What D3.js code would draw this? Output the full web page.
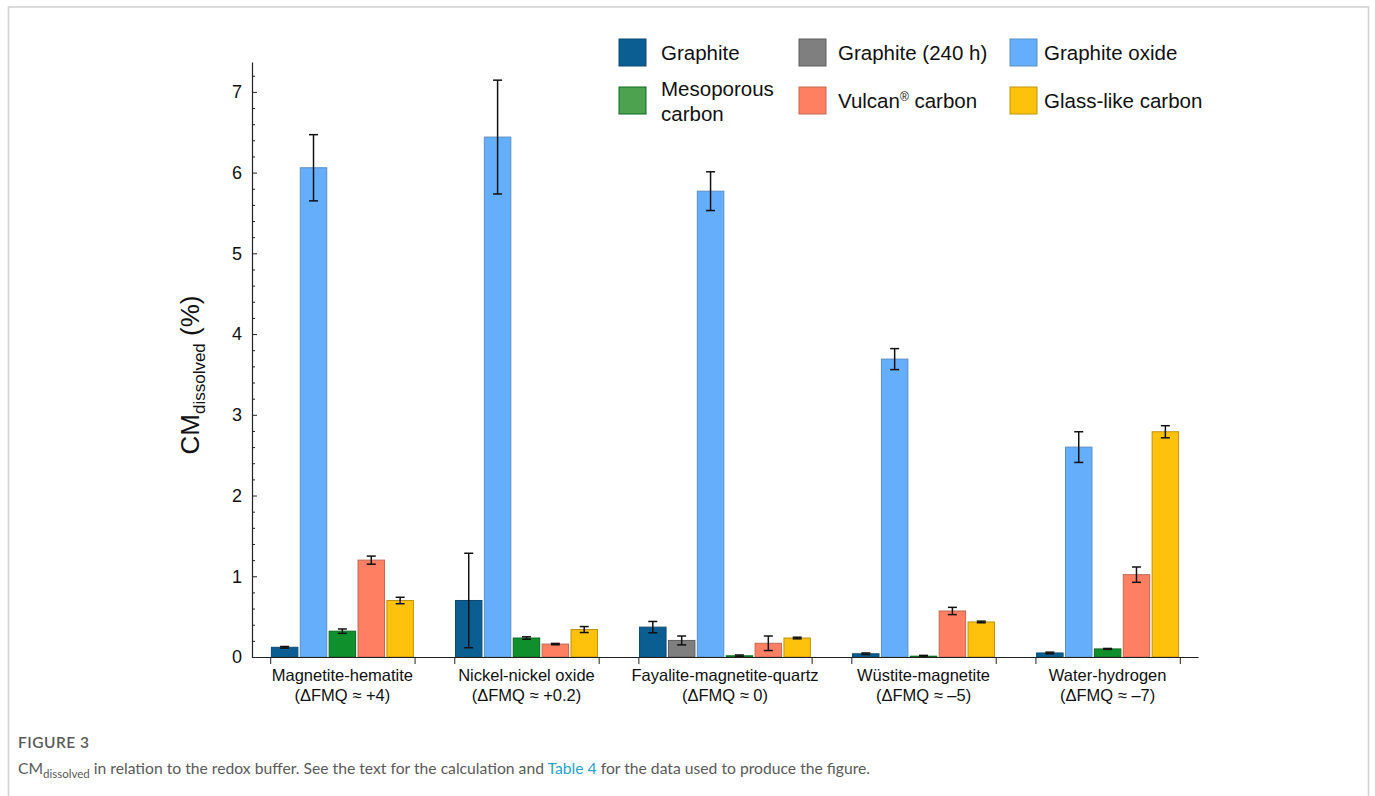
<!DOCTYPE html>
<html>
<head>
<meta charset="utf-8">
<script src="https://cdn.jsdelivr.net/npm/d3@7/dist/d3.min.js"></script>
<style>
  html, body { margin: 0; padding: 0; background: #fff; }
  svg { display: block; }
</style>
</head>
<body>
<svg id="fig" width="1375" height="796"></svg>
<script>
// Redox buffers (x groups) and their second label line
const buffers = ["Magnetite-hematite", "Nickel-nickel oxide", "Fayalite-magnetite-quartz", "Wüstite-magnetite", "Water-hydrogen"];
const bufferDelta = ["(ΔFMQ ≈ +4)", "(ΔFMQ ≈ +0.2)", "(ΔFMQ ≈ 0)", "(ΔFMQ ≈ –5)", "(ΔFMQ ≈ –7)"];

// Carbon materials (series)
const materials = ["Graphite", "Graphite (240 h)", "Graphite oxide", "Mesoporous carbon", "Vulcan® carbon", "Glass-like carbon"];

// CM_dissolved (%) per buffer; null = not measured
const graphite        = [0.12, 0.70, 0.37, 0.04, 0.05];
const graphiteErr     = [0.01, 0.585, 0.07, 0.01, 0.01];
const graphite240     = [null, null, 0.205, null, null];
const graphite240Err  = [null, null, 0.055, null, null];
const graphiteOxide   = [6.06, 6.44, 5.77, 3.69, 2.60];
const graphiteOxideErr= [0.41, 0.705, 0.24, 0.13, 0.19];
const mesoporous      = [0.32, 0.235, 0.015, 0.01, 0.10];
const mesoporousErr   = [0.027, 0.015, 0.01, 0.01, 0.006];
const vulcan          = [1.20, 0.16, 0.17, 0.57, 1.02];
const vulcanErr       = [0.05, 0.008, 0.09, 0.045, 0.095];
const glassy          = [0.70, 0.34, 0.235, 0.434, 2.79];
const glassyErr       = [0.04, 0.037, 0.01, 0.01, 0.075];

const yTicks = [0, 1, 2, 3, 4, 5, 6, 7];

const values = [graphite, graphite240, graphiteOxide, mesoporous, vulcan, glassy];
const errors = [graphiteErr, graphite240Err, graphiteOxideErr, mesoporousErr, vulcanErr, glassyErr];

const fills   = ["#0b5e91", "#7f7f7f", "#64aefb", "#10902c", "#fe7f62", "#fec20c"];
const strokes = ["#0a4a72", "#5e5e5e", "#5b8fc4", "#0b6a20", "#c06a56", "#c0920c"];
const swatchFills = ["#0b5e91", "#7f7f7f", "#64aefb", "#4ca24f", "#fe7f62", "#fec20c"];

const svg = d3.select("#fig");
const FONT = "'Liberation Sans', Arial, sans-serif";

// outer frame
svg.append("rect")
  .attr("x", 8.5).attr("y", 7).attr("width", 1360).attr("height", 820)
  .attr("fill", "#fff").attr("stroke", "#d2d2d2").attr("stroke-width", 1.6);

// ---- layout of bars in slot units: bars packed per group, gaps between groups
const edgePad = 0.63, groupGap = 1.375;
const bars = [];
const groups = [];
let u = edgePad;
buffers.forEach((b, gi) => {
  if (gi > 0) u += groupGap;
  const start = u;
  values.forEach((arr, si) => {
    if (arr[gi] !== null) {
      bars.push({ g: gi, s: si, u0: u, v: arr[gi], e: errors[si][gi] });
      u += 1;
    }
  });
  groups.push({ start, end: u });
});
const totalUnits = u + edgePad;

const x = d3.scaleLinear().domain([0, totalUnits]).range([252, 1198]);
const y = d3.scaleLinear().domain([0, 7.37]).range([657, 62]);

const plot = svg.append("g");

// bars
plot.selectAll("rect.bar").data(bars).enter().append("rect")
  .attr("class", "bar")
  .attr("x", d => x(d.u0) + 1.2)
  .attr("width", d => x(d.u0 + 1) - x(d.u0) - 2.4)
  .attr("y", d => y(d.v))
  .attr("height", d => y(0) - y(d.v))
  .attr("fill", d => fills[d.s])
  .attr("stroke", d => strokes[d.s])
  .attr("stroke-width", 1);

// error bars
const eb = plot.selectAll("g.err").data(bars).enter().append("g")
  .attr("class", "err")
  .attr("stroke", "#111").attr("stroke-width", 1.5).attr("fill", "none");
const cx = d => x(d.u0 + 0.5);
eb.append("line").attr("x1", cx).attr("x2", cx)
  .attr("y1", d => y(d.v + d.e)).attr("y2", d => y(Math.max(0, d.v - d.e)));
eb.append("line").attr("x1", d => cx(d) - 4.5).attr("x2", d => cx(d) + 4.5)
  .attr("y1", d => y(d.v + d.e)).attr("y2", d => y(d.v + d.e));
eb.append("line").attr("x1", d => cx(d) - 4.5).attr("x2", d => cx(d) + 4.5)
  .attr("y1", d => y(Math.max(0, d.v - d.e))).attr("y2", d => y(Math.max(0, d.v - d.e)));

// y axis (ticks pointing inward)
const yMinor = d3.range(0, 7.3, 0.2).filter(v => Math.abs(v - Math.round(v)) > 1e-6);
svg.append("g").attr("transform", "translate(252,0)")
  .call(d3.axisLeft(y).tickValues(yMinor).tickSizeInner(-3).tickSizeOuter(0).tickFormat(""))
  .call(g => g.select(".domain").remove())
  .selectAll("line").attr("stroke", "#222");
const yAx = svg.append("g").attr("transform", "translate(252,0)")
  .call(d3.axisLeft(y).tickValues(yTicks).tickSizeInner(-5).tickSizeOuter(0).tickPadding(10).tickFormat(d3.format("d")));
yAx.select(".domain").attr("stroke", "#222").attr("stroke-width", 1.2);
yAx.selectAll("line").attr("stroke", "#222");
yAx.selectAll("text").attr("font-family", FONT).attr("font-size", 18).attr("fill", "#111");

// x axis with ticks at group edges
const edgeTicks = [];
groups.forEach(g => { edgeTicks.push(g.start, g.end); });
const xAx = svg.append("g").attr("transform", `translate(0,${y(0)})`)
  .call(d3.axisBottom(x).tickValues(edgeTicks).tickSizeInner(7).tickSizeOuter(0).tickFormat(""));
xAx.select(".domain").attr("stroke", "#222").attr("stroke-width", 1.2);
xAx.selectAll("line").attr("stroke", "#222");

// group labels
const gl = svg.append("g").attr("font-family", FONT).attr("font-size", 16.5)
  .attr("fill", "#111").attr("text-anchor", "middle");
groups.forEach((g, i) => {
  const c = x((g.start + g.end) / 2);
  gl.append("text").attr("x", c).attr("y", 681).text(buffers[i]);
  gl.append("text").attr("x", c).attr("y", 701).text(bufferDelta[i]);
});

// y title
const yt = svg.append("text")
  .attr("transform", "translate(199,375) rotate(-90)")
  .attr("text-anchor", "middle")
  .attr("font-family", FONT).attr("font-size", 26).attr("fill", "#111");
yt.append("tspan").text("CM");
yt.append("tspan").attr("font-size", 17).attr("dy", 6).text("dissolved");
yt.append("tspan").attr("dy", -6).text(" (%)");

// legend (3 columns x 2 rows)
const legX = [619, 799, 1010];
const legTextX = [661, 838, 1044];
const legY = [39, 87];
const lg = svg.append("g").attr("font-family", FONT).attr("font-size", 20.5).attr("fill", "#111");
materials.forEach((m, i) => {
  const col = i % 3, row = Math.floor(i / 3);
  lg.append("rect").attr("x", legX[col]).attr("y", legY[row])
    .attr("width", 27).attr("height", 27)
    .attr("fill", swatchFills[i]).attr("stroke", strokes[i]).attr("stroke-width", 1);
  const t = lg.append("text").attr("x", legTextX[col]);
  if (m === "Mesoporous carbon") {
    t.attr("y", legY[row] + 9).text("Mesoporous");
    lg.append("text").attr("x", legTextX[col]).attr("y", legY[row] + 34).text("carbon");
  } else if (m === "Vulcan® carbon") {
    t.attr("y", legY[row] + 20.5);
    t.append("tspan").text("Vulcan");
    t.append("tspan").attr("font-size", 12).attr("dy", -7).text("®");
    t.append("tspan").attr("dy", 7).text(" carbon");
  } else {
    t.attr("y", legY[row] + 20.5).text(m);
  }
});

// caption
const CAP = "Lato, 'Open Sans', sans-serif";
svg.append("text").attr("x", 18).attr("y", 748)
  .attr("font-family", CAP).attr("font-size", 15.5).attr("font-weight", 600)
  .attr("letter-spacing", 0.5).attr("fill", "#5a5a5a").text("FIGURE 3");
const cap = svg.append("text").attr("x", 18).attr("y", 774)
  .attr("font-family", CAP).attr("font-size", 15.7).attr("fill", "#5a5a5a");
cap.append("tspan").text("CM");
cap.append("tspan").attr("font-size", 11.5).attr("dy", 4).text("dissolved");
cap.append("tspan").attr("dy", -4).text(" in relation to the redox buffer. See the text for the calculation and ");
cap.append("tspan").attr("fill", "#2aa3c8").text("Table 4");
cap.append("tspan").text(" for the data used to produce the figure.");
</script>
</body>
</html>
